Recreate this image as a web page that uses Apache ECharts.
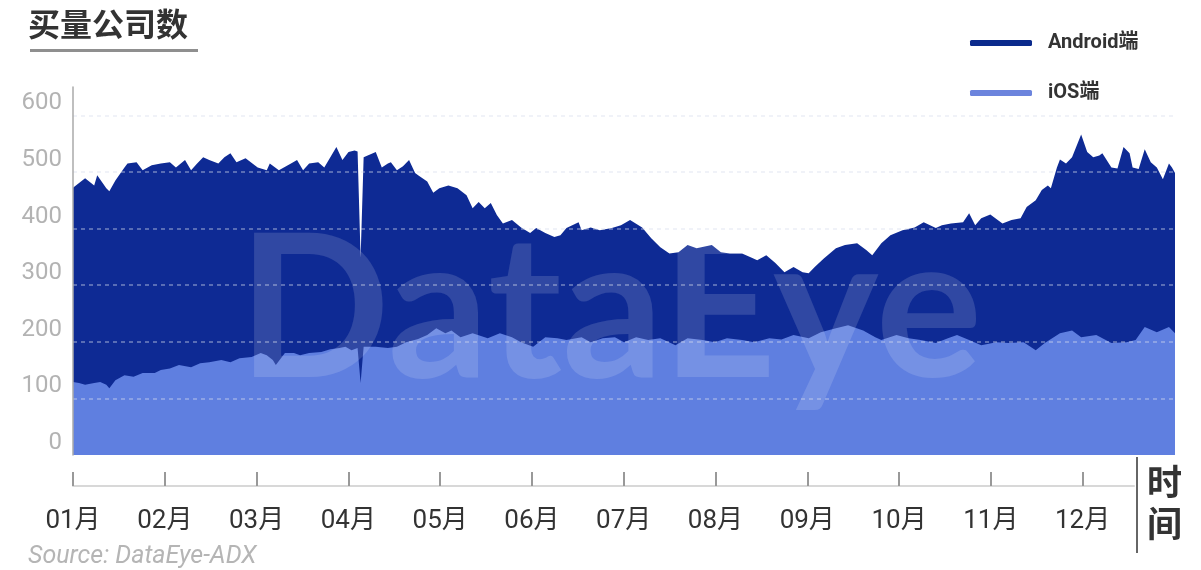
<!DOCTYPE html>
<html>
<head>
<meta charset="utf-8">
<script src="https://cdn.jsdelivr.net/npm/echarts@6/dist/echarts.min.js"></script>
<style>
html,body{margin:0;padding:0;background:#fff;}
#chart{width:1201px;height:570px;}
</style>
</head>
<body>
<div id="chart"></div>
<script>
// ---- data (day of year → number of buying companies) ----
const androidDays = [0,4,7,8,11,12,14,17,18,21,23,26,29,32,34,37,39,41,43,45,48,50,52,54,57,61,64,65,68,72,74,76,78,81,83,85,87,89,91,93,94,95,96,100,102,104,105,107,109,111,113,114,117,119,121,124,127,130,132,134,136,138,140,142,145,148,151,153,156,159,161,163,167,168,171,174,178,181,184,188,191,194,197,200,203,206,211,214,217,221,224,226,229,232,235,238,241,243,245,248,252,255,259,262,264,267,270,274,278,281,285,287,290,294,296,298,300,303,307,310,313,315,318,320,322,323,325,326,328,330,333,335,337,339,340,343,345,347,349,350,352,354,356,358,360,362,363,364];
const androidValues = [472,489,476,494,471,466,485,508,515,517,503,512,515,517,508,521,503,515,526,521,515,526,533,517,524,508,503,515,503,515,521,503,515,517,508,526,544,521,535,538,536,349,526,535,508,515,517,503,510,521,498,494,483,463,471,476,471,459,436,447,436,445,424,409,415,402,392,401,392,385,388,401,411,397,402,397,401,406,415,402,383,367,356,358,371,365,371,358,356,356,349,344,353,339,323,332,323,321,332,347,365,371,374,362,353,374,388,397,402,411,401,406,409,411,427,406,418,425,409,415,418,438,450,468,476,471,508,522,515,526,566,535,526,529,533,508,506,544,533,508,505,540,517,508,487,515,508,498];
const iosDays = [0,2,4,7,9,11,12,14,17,20,23,27,29,32,35,39,42,45,49,52,55,59,62,64,66,67,70,73,75,78,82,85,88,90,92,94,95,96,100,104,107,110,114,117,120,123,125,128,132,137,141,145,148,152,156,160,163,168,171,175,179,182,186,190,194,199,203,208,212,216,221,225,230,234,238,243,247,252,256,261,265,267,272,276,280,285,289,292,296,300,305,309,314,318,321,326,330,333,338,343,348,351,354,358,362,364];
const iosValues = [129,127,124,127,129,124,118,132,141,138,145,145,150,153,159,155,162,164,168,164,171,173,180,176,168,159,180,180,176,180,182,187,189,191,185,189,127,191,191,189,191,199,205,212,224,215,220,208,215,206,215,208,199,191,208,206,203,208,199,206,208,199,208,203,206,194,206,203,199,206,203,199,206,204,212,206,217,224,229,220,208,203,212,206,203,198,206,212,203,194,199,198,199,185,198,215,220,208,212,198,199,203,226,217,226,215];
const monthLabels = ['01月','02月','03月','04月','05月','06月','07月','08月','09月','10月','11月','12月'];
const monthTicks = [0,1,2,3,4,5,6,7,8,9,10,11];
const yTickValues = [0,100,200,300,400,500,600];
const seriesNames = ['Android端','iOS端'];

const ANDROID_COLOR = '#0e2a94';
const IOS_COLOR = '#5f7fe0';

const chart = echarts.init(document.getElementById('chart'), null, {renderer:'canvas'});
const toPairs = (days, vals) => days.map((d, i) => [d, vals[i]]);

chart.setOption({
  animation: false,
  backgroundColor: '#fff',
  grid: [
    {left: 73, right: 26, top: 87, bottom: 115, containLabel: false},
    {left: 73, right: 67, top: 485, height: 1, containLabel: false}
  ],
  xAxis: [
    {gridIndex: 0, type: 'value', min: 0, max: 364, show: false},
    {gridIndex: 1, type: 'value', min: 0, max: 11.56, interval: 1,
     axisLine: {show: true, lineStyle: {color: '#d8d8d8', width: 2}},
     axisTick: {show: true, inside: true, length: 14, customValues: monthTicks, lineStyle: {color: '#999', width: 2}},
     axisLabel: {show: true, customValues: monthTicks, margin: 22, fontSize: 26,
       fontFamily: 'Roboto, "Noto Sans CJK SC"', color: '#333',
       formatter: v => monthLabels[Math.round(v)] || ''},
     splitLine: {show: false}}
  ],
  yAxis: [
    {gridIndex: 0, type: 'value', min: 0, max: 650, interval: 100, z: 5,
     axisLine: {show: true, lineStyle: {color: '#aaa', width: 1.5}},
     axisTick: {show: false},
     axisLabel: {customValues: yTickValues, fontSize: 24, color: '#b3b3b3', margin: 11,
       fontFamily: 'Roboto', verticalAlign: 'bottom'},
     splitLine: {show: true, showMinLine: false, showMaxLine: false,
       lineStyle: {color: 'rgba(215,222,238,0.5)', type: [4, 4], width: 1.5}}},
    {gridIndex: 1, type: 'value', min: 0, max: 1, show: false}
  ],
  legend: {
    orient: 'vertical', left: 965, top: 26, itemWidth: 62, itemHeight: 6, itemGap: 26,
    icon: 'roundRect',
    textStyle: {fontSize: 20, fontWeight: 'bold', color: '#333', lineHeight: 24,
      fontFamily: 'Roboto, "Noto Sans CJK SC"', padding: [0, 0, 0, 11]},
    data: [
      {name: seriesNames[0], itemStyle: {color: '#0b2a8c'}},
      {name: seriesNames[1], itemStyle: {color: '#6c84dd'}}
    ]
  },
  series: [
    {name: seriesNames[0], type: 'line', xAxisIndex: 0, yAxisIndex: 0,
     data: toPairs(androidDays, androidValues), symbol: 'none', showSymbol: false,
     itemStyle: {color: ANDROID_COLOR}, lineStyle: {width: 0, color: ANDROID_COLOR},
     areaStyle: {color: ANDROID_COLOR, opacity: 1}, emphasis: {disabled: true}, z: 2},
    {name: seriesNames[1], type: 'line', xAxisIndex: 0, yAxisIndex: 0,
     data: toPairs(iosDays, iosValues), symbol: 'none', showSymbol: false,
     itemStyle: {color: IOS_COLOR}, lineStyle: {width: 0, color: IOS_COLOR},
     areaStyle: {color: IOS_COLOR, opacity: 1}, emphasis: {disabled: true}, z: 3}
  ],
  graphic: [
    {type: 'text', left: 28, top: 8, z: 10,
     style: {text: '买量公司数', font: 'bold 32px "Noto Sans CJK SC"', fill: '#333'}},
    {type: 'rect', left: 30, top: 49, z: 10, shape: {width: 168, height: 3}, style: {fill: '#8f8f8f'}},
    {type: 'text', left: 238, top: 212, z: 4, silent: true,
     style: {text: 'DataEye', font: 'bold 200px Lato', fill: 'rgba(255,255,255,0.14)'}},
    {type: 'line', z: 10, shape: {x1: 1137, y1: 457, x2: 1137, y2: 553}, style: {stroke: '#666', lineWidth: 2}},
    {type: 'text', left: 1147, top: 461, z: 10,
     style: {text: '时\n间', font: 'bold 35px "Noto Sans CJK SC"', fill: '#333', lineHeight: 42}},
    {type: 'text', left: 28, top: 544, z: 10,
     style: {text: 'Source: DataEye-ADX', font: 'italic 25px Roboto', fill: '#b5b5b5'}}
  ]
});
</script>
</body>
</html>
